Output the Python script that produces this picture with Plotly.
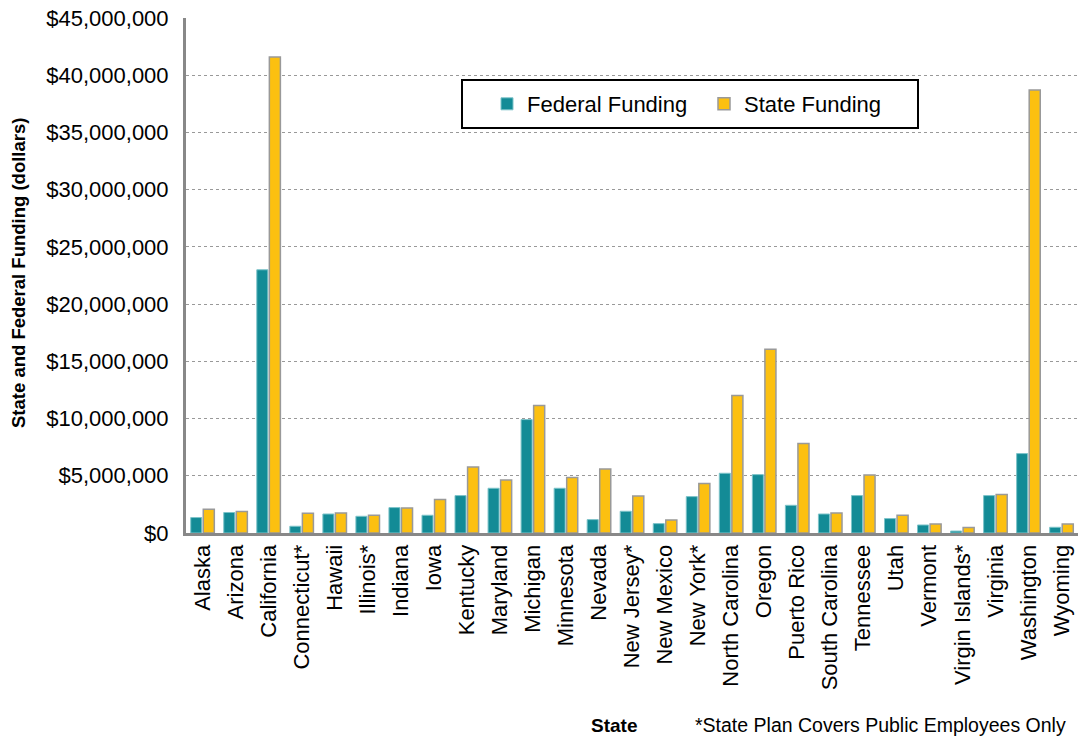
import plotly.graph_objects as go

# Funding by state (dollars)
states = [
    "Alaska", "Arizona", "California", "Connecticut*", "Hawaii", "Illinois*",
    "Indiana", "Iowa", "Kentucky", "Maryland", "Michigan", "Minnesota",
    "Nevada", "New Jersey*", "New Mexico", "New York*", "North Carolina",
    "Oregon", "Puerto Rico", "South Carolina", "Tennessee", "Utah", "Vermont",
    "Virgin Islands*", "Virginia", "Washington", "Wyoming",
]
federal_funding = [
    1350000, 1790000, 23000000, 590000, 1660000, 1460000,
    2220000, 1550000, 3270000, 3910000, 9910000, 3910000,
    1170000, 1900000, 820000, 3180000, 5220000,
    5100000, 2420000, 1660000, 3270000, 1260000, 700000,
    170000, 3270000, 6940000, 500000,
]
state_funding = [
    2080000, 1880000, 41600000, 1720000, 1750000, 1550000,
    2190000, 2920000, 5770000, 4630000, 11140000, 4840000,
    5590000, 3230000, 1140000, 4320000, 12010000,
    16060000, 7820000, 1750000, 5070000, 1550000, 790000,
    470000, 3360000, 38700000, 790000,
]
y_ticks = list(range(0, 45000001, 5000000))
y_tick_text = ["${:,}".format(v) for v in y_ticks]

FONT = "Liberation Sans, Arial, sans-serif"

# plot area in pixels: left 186, right 1078, top 18, bottom 533
def px_x(x):
    return (x - 186) / 892

def px_y(y):
    return (533 - y) / 515

fig = go.Figure()
fig.add_trace(go.Bar(
    x=states, y=federal_funding, name="Federal Funding",
    marker=dict(color="#138B96", line=dict(color="#7CC3C9", width=1)),
))
fig.add_trace(go.Bar(
    x=states, y=state_funding, name="State Funding",
    marker=dict(color="#FCC010", line=dict(color="#999999", width=1.5)),
))

fig.update_layout(
    width=1078, height=740,
    margin=dict(l=186, r=0, t=18, b=207),
    paper_bgcolor="white", plot_bgcolor="white",
    barmode="group", bargap=0.24, bargroupgap=0.12,
    font=dict(family=FONT, color="black"),
    showlegend=True,
    legend=dict(
        orientation="h", x=px_x(487), y=px_y(104), xanchor="left", yanchor="middle",
        bgcolor="rgba(0,0,0,0)", borderwidth=0,
        font=dict(size=22, family=FONT), entrywidth=172,
    ),
)

# legend frame
fig.add_shape(
    type="rect", xref="paper", yref="paper",
    x0=px_x(462), x1=px_x(918), y0=px_y(128), y1=px_y(80),
    line=dict(color="black", width=2), fillcolor="white", layer="above",
)

fig.update_xaxes(
    tickangle=-90, tickfont=dict(size=22, family=FONT),
    showline=True, linecolor="#888888", linewidth=3,
    showgrid=False, ticks="", automargin=False,
)
fig.update_yaxes(
    range=[0, 45000000], tickvals=y_ticks, ticktext=y_tick_text,
    tickfont=dict(size=22, family=FONT), ticklabelstandoff=10,
    showline=True, linecolor="#888888", linewidth=3,
    showgrid=True, gridcolor="#999999", gridwidth=1, griddash="dot",
    ticks="", zeroline=False, automargin=False,
)

# Axis titles and footnote
fig.add_annotation(
    text="<b>State and Federal Funding (dollars)</b>", textangle=-90,
    xref="paper", yref="paper", x=px_x(18), y=px_y(273),
    xanchor="center", yanchor="middle", showarrow=False,
    font=dict(size=18.5, family=FONT),
)
fig.add_annotation(
    text="<b>State</b>", xref="paper", yref="paper",
    x=px_x(614), y=px_y(725),
    xanchor="center", yanchor="middle", showarrow=False,
    font=dict(size=19, family=FONT),
)
fig.add_annotation(
    text="*State Plan Covers Public Employees Only", xref="paper", yref="paper",
    x=px_x(1068), y=px_y(725),
    xanchor="right", yanchor="middle", showarrow=False,
    font=dict(size=19.5, family=FONT),
)

fig.write_html("out.html")
